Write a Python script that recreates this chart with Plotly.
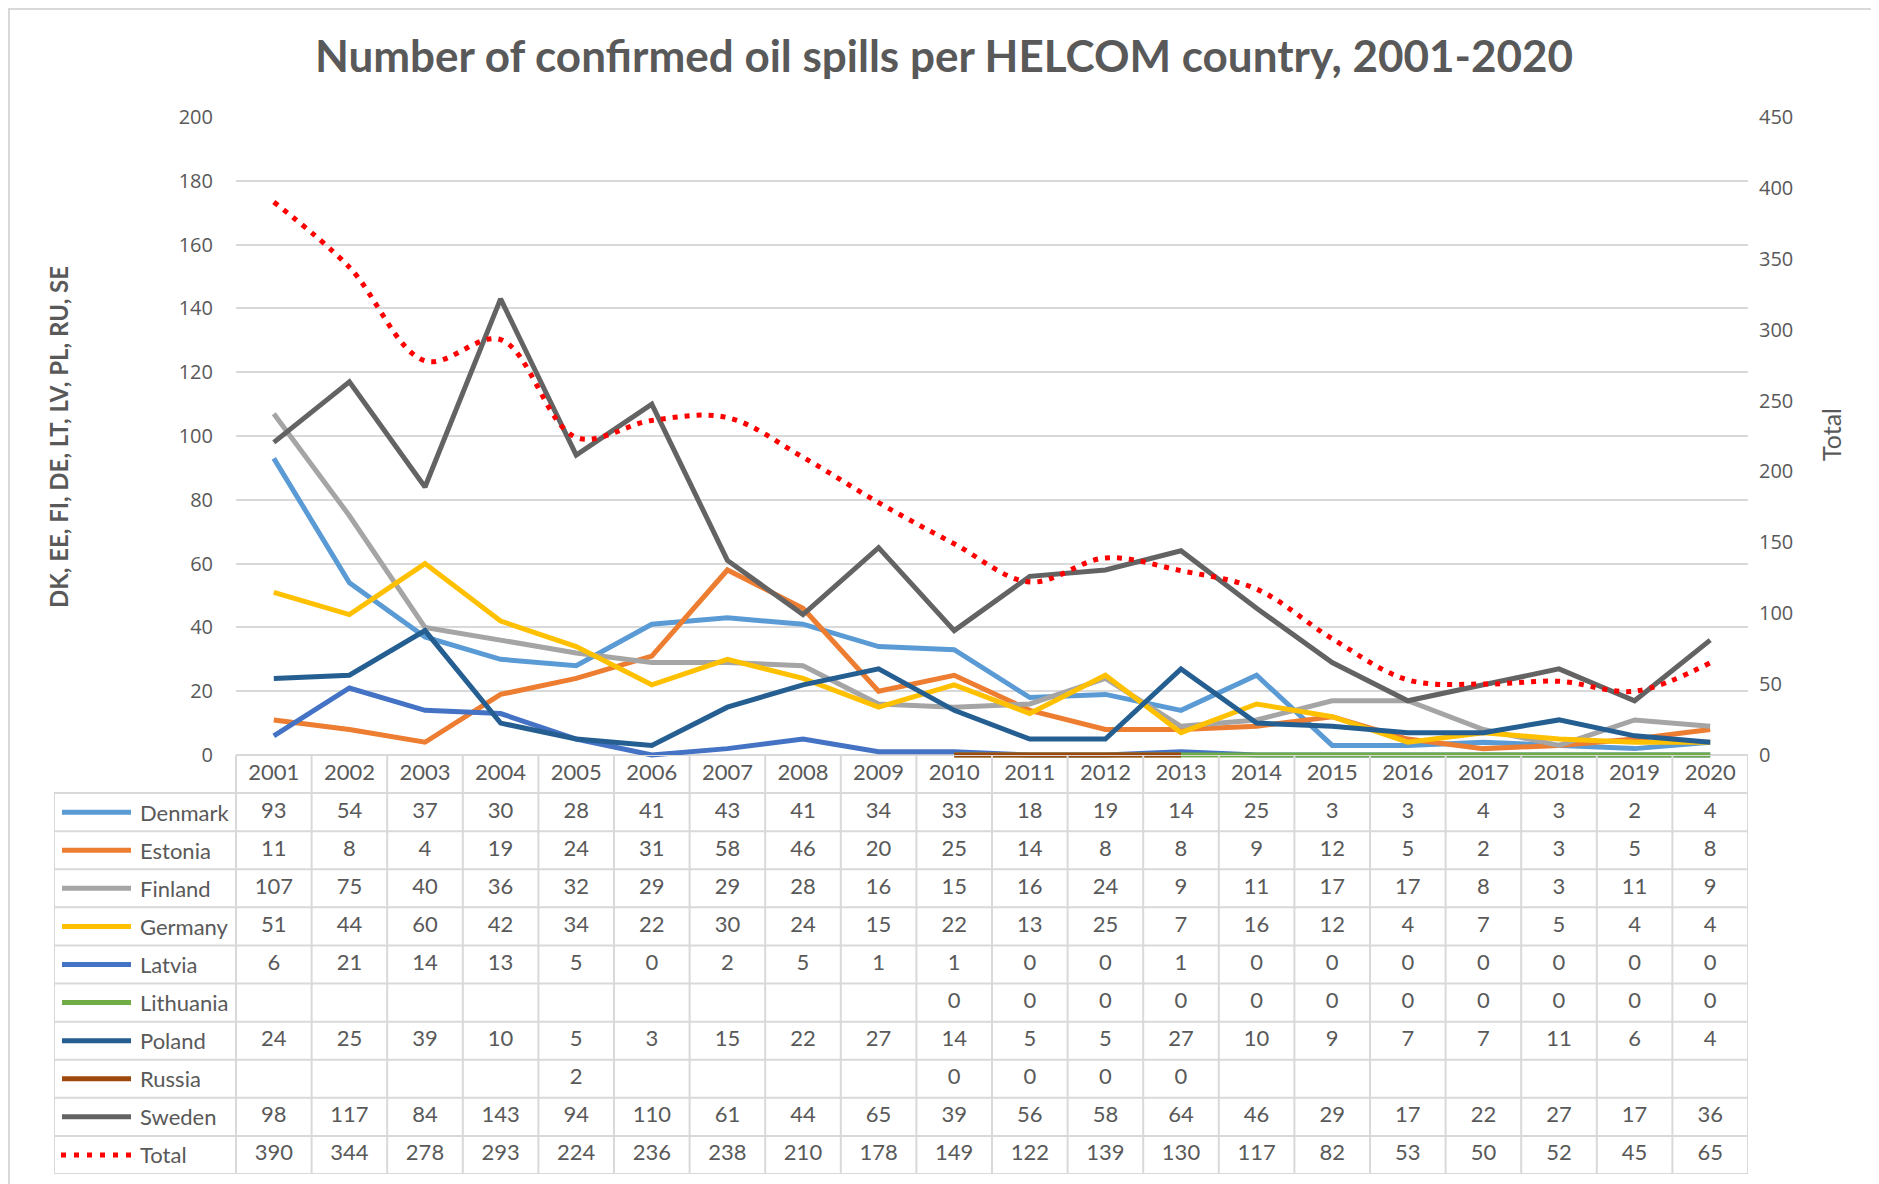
import plotly.graph_objects as go

years = list(range(2001, 2021))

denmark = [93, 54, 37, 30, 28, 41, 43, 41, 34, 33, 18, 19, 14, 25, 3, 3, 4, 3, 2, 4]
estonia = [11, 8, 4, 19, 24, 31, 58, 46, 20, 25, 14, 8, 8, 9, 12, 5, 2, 3, 5, 8]
finland = [107, 75, 40, 36, 32, 29, 29, 28, 16, 15, 16, 24, 9, 11, 17, 17, 8, 3, 11, 9]
germany = [51, 44, 60, 42, 34, 22, 30, 24, 15, 22, 13, 25, 7, 16, 12, 4, 7, 5, 4, 4]
latvia = [6, 21, 14, 13, 5, 0, 2, 5, 1, 1, 0, 0, 1, 0, 0, 0, 0, 0, 0, 0]
lithuania = [None] * 9 + [0, 0, 0, 0, 0, 0, 0, 0, 0, 0, 0]
poland = [24, 25, 39, 10, 5, 3, 15, 22, 27, 14, 5, 5, 27, 10, 9, 7, 7, 11, 6, 4]
russia = [None, None, None, None, 2, None, None, None, None, 0, 0, 0, 0] + [None] * 7
sweden = [98, 117, 84, 143, 94, 110, 61, 44, 65, 39, 56, 58, 64, 46, 29, 17, 22, 27, 17, 36]
total = [390, 344, 278, 293, 224, 236, 238, 210, 178, 149, 122, 139, 130, 117, 82, 53, 50, 52, 45, 65]

countries = ["Denmark", "Estonia", "Finland", "Germany", "Latvia", "Lithuania", "Poland", "Russia", "Sweden"]
country_values = [denmark, estonia, finland, germany, latvia, lithuania, poland, russia, sweden]
colors = ["#5B9BD5", "#ED7D31", "#A5A5A5", "#FFC000", "#4472C4", "#70AD47", "#255E91", "#9E480E", "#636363"]
total_color = "#FF0000"

W, H = 1879, 1184
OFF = 8  # page body margin

# screen pixel -> paper fraction
def px(x):
    return (x - OFF) / W
def py(y):
    return 1 - (y - OFF) / H

# layout in pixels of the reference
plot_l, plot_r, plot_t, plot_b = 236, 1748, 117, 755
tab_l, tab_b = 54, 1174
col_w = (plot_r - plot_l) / len(years)
x0 = years[0] - 0.5
x1 = years[-1] + 0.5
tab_x0 = x0 - (plot_l - tab_l) / col_w

# small room under zero so lines at 0 are not cut in half
y_max, y2_max = 200, 450
y_pad = 2
pad_px = y_pad * (plot_b - plot_t) / y_max

grid = "#D9D9D9"
txt = "#595959"
table_font = dict(family="Lato, Open Sans, sans-serif", size=22, color=txt)
tick_font = dict(family="Open Sans, sans-serif", size=20, color=txt)

fig = go.Figure()

for name, vals, c in zip(countries, country_values, colors):
    fig.add_trace(go.Scatter(x=years, y=vals, name=name, mode="lines",
                             line=dict(color=c, width=5), connectgaps=False,
                             xaxis="x", yaxis="y", cliponaxis=False))

fig.add_trace(go.Scatter(x=years, y=total, name="Total", mode="lines",
                         line=dict(color=total_color, width=5, dash="5px,7px", shape="spline"),
                         xaxis="x", yaxis="y2", cliponaxis=False))

# data table: header row 0, series rows 1..10
rows = countries + ["Total"]
row_vals = country_values + [total]

fig.add_trace(go.Scatter(x=years, y=[0] * len(years), text=[str(y) for y in years],
                         mode="text", textfont=table_font, xaxis="x2", yaxis="y3",
                         hoverinfo="skip"))
for i, vals in enumerate(row_vals, start=1):
    fig.add_trace(go.Scatter(x=years, y=[i] * len(years),
                             text=["" if v is None else str(v) for v in vals],
                             mode="text", textfont=table_font, xaxis="x2", yaxis="y3",
                             hoverinfo="skip"))

shapes = []
border = dict(color=grid, width=2)
# horizontal borders
shapes.append(dict(type="line", xref="x2", yref="y3", x0=x0, x1=x1, y0=-0.5, y1=-0.5,
                   line=border, layer="below"))
for k in range(len(rows) + 1):
    shapes.append(dict(type="line", xref="x2", yref="y3", x0=tab_x0, x1=x1,
                       y0=k + 0.5, y1=k + 0.5, line=border, layer="below"))
# vertical borders
for k in range(len(years) + 1):
    shapes.append(dict(type="line", xref="x2", yref="y3", x0=x0 + k, x1=x0 + k,
                       y0=-0.5, y1=len(rows) + 0.5, line=border, layer="below"))
shapes.append(dict(type="line", xref="x2", yref="y3", x0=tab_x0, x1=tab_x0,
                   y0=0.5, y1=len(rows) + 0.5, line=border, layer="below"))

# legend keys inside the table
for i, c in enumerate(colors, start=1):
    shapes.append(dict(type="line", xref="paper", yref="y3", x0=px(62), x1=px(131),
                       y0=i, y1=i, line=dict(color=c, width=5)))
shapes.append(dict(type="line", xref="paper", yref="y3", x0=px(61), x1=px(134),
                   y0=len(rows), y1=len(rows), line=dict(color=total_color, width=5, dash="5px,8px")))

# chart outer frame
shapes.append(dict(type="rect", xref="paper", yref="paper", x0=px(9), x1=px(1900),
                   y0=py(1210), y1=py(9), line=dict(color=grid, width=2), layer="below"))

annotations = []
for i, r in enumerate(rows, start=1):
    annotations.append(dict(text=r, xref="paper", yref="y3", x=px(138), y=i,
                            xanchor="left", yanchor="middle", showarrow=False, font=table_font))

annotations.append(dict(text="<b>DK, EE, FI, DE, LT, LV, PL, RU, SE</b>", xref="paper", yref="paper",
                        x=px(58), y=py(437), xanchor="center", yanchor="middle",
                        textangle=-90, showarrow=False,
                        font=dict(family="Lato, Open Sans, sans-serif", size=24, color=txt)))
annotations.append(dict(text="Total", xref="paper", yref="paper",
                        x=px(1831), y=py(435), xanchor="center", yanchor="middle",
                        textangle=-90, showarrow=False,
                        font=dict(family="Lato, Open Sans, sans-serif", size=25, color=txt)))

fig.update_layout(
    width=W, height=H,
    margin=dict(l=0, r=0, t=0, b=0, pad=0, autoexpand=False),
    paper_bgcolor="white", plot_bgcolor="rgba(0,0,0,0)",
    showlegend=False,
    title=dict(text="<b>Number of confirmed oil spills per HELCOM country, 2001-2020</b>",
               x=px(944), xanchor="center", y=py(57), yanchor="middle",
               font=dict(family="Lato, Open Sans, sans-serif", size=44, color=txt)),
    xaxis=dict(domain=[px(plot_l), px(plot_r)], range=[x0, x1], showticklabels=False,
               showgrid=False, zeroline=False, showline=False, anchor="y"),
    yaxis=dict(domain=[py(plot_b + pad_px), py(plot_t)], range=[-y_pad, y_max], tick0=0, dtick=20,
               tickfont=tick_font, showgrid=True, gridcolor=grid, gridwidth=2, zeroline=False,
               showline=False, ticks="", ticklabelstandoff=22, anchor="x"),
    yaxis2=dict(overlaying="y", side="right", range=[-y_pad * y2_max / y_max, y2_max], tick0=0,
                dtick=50, tickfont=tick_font, showgrid=False, zeroline=False, showline=False,
                ticks="", ticklabelstandoff=10, anchor="x"),
    xaxis2=dict(domain=[px(tab_l), px(plot_r)], range=[tab_x0, x1], visible=False, anchor="y3"),
    yaxis3=dict(domain=[py(tab_b), py(plot_b)], range=[len(rows) + 0.5, -0.5], visible=False,
                anchor="x2"),
    shapes=shapes,
    annotations=annotations,
)

fig.write_html("out.html")
